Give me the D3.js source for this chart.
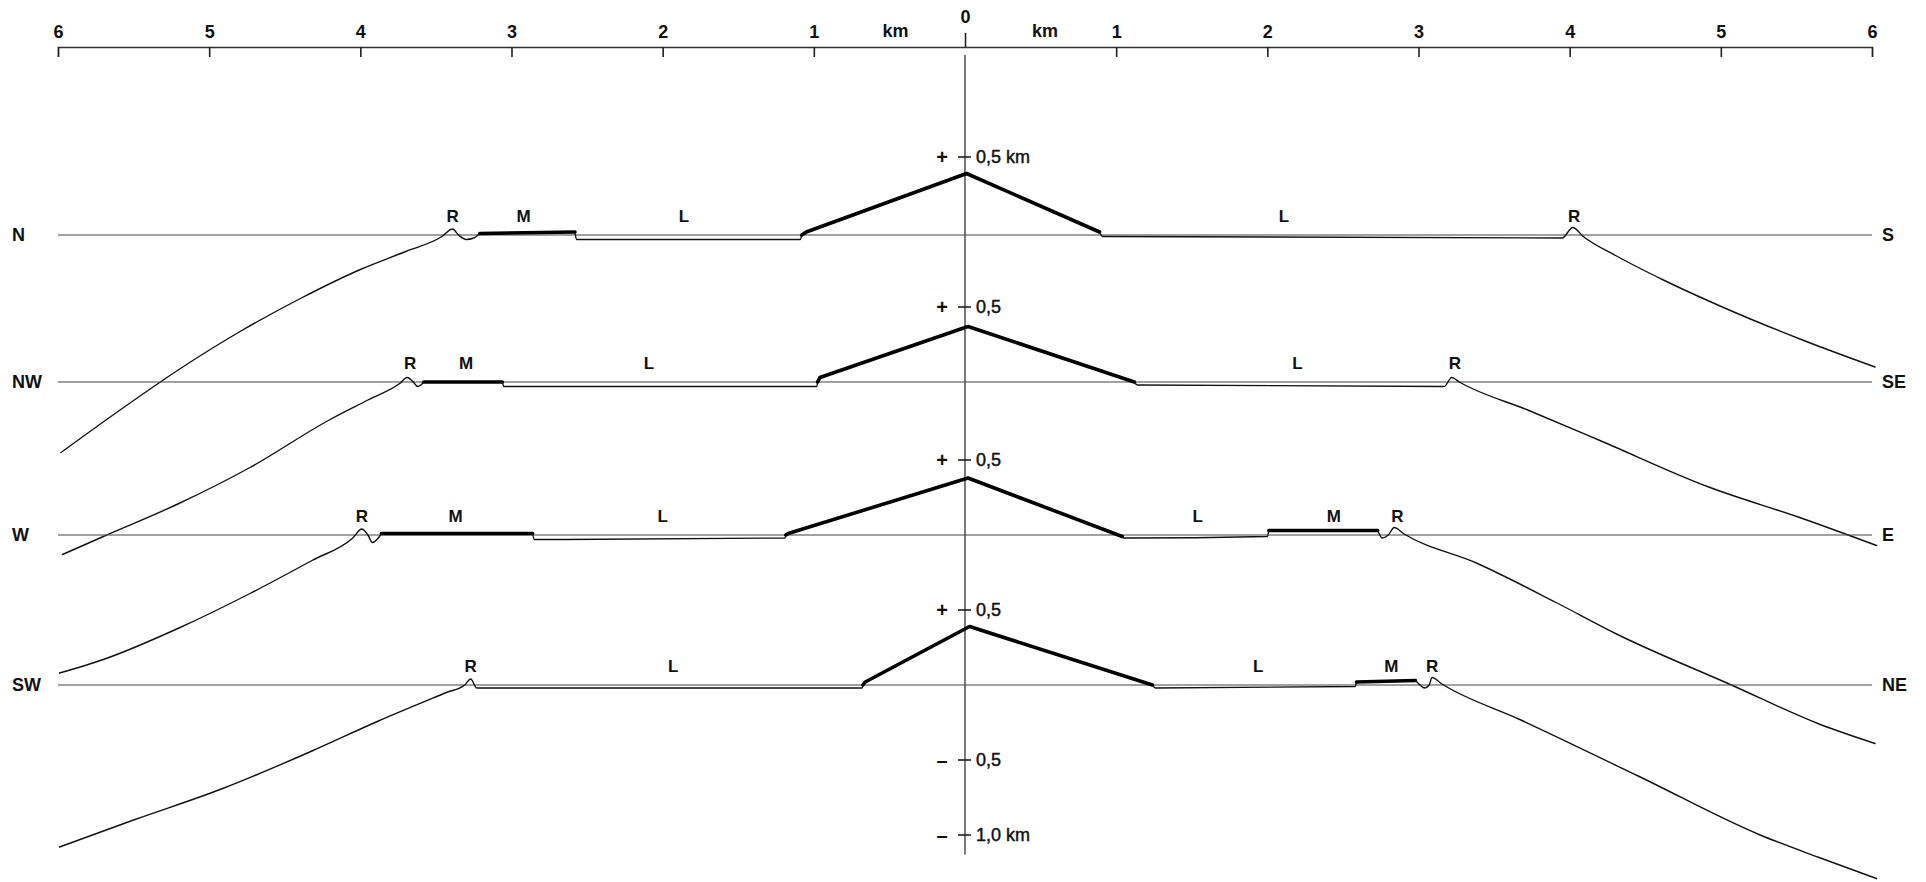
<!DOCTYPE html>
<html>
<head>
<meta charset="utf-8">
<script src="https://cdn.jsdelivr.net/npm/d3@7"></script>
<style>
  html, body { margin: 0; padding: 0; background: #fff; }
  svg { display: block; font-family: "Liberation Sans", Arial, sans-serif; }
</style>
</head>
<body>
<div id="chart-area"></div>
<script>
const svgWidth = 1926,
      svgHeight = 882;

// profile names (left end, right end) and vertical offset of each datum, km
const profileNames = [["N", "S"], ["NW", "SE"], ["W", "E"], ["SW", "NE"]];
const profileOffsets = [0, -0.98, -2, -3];

// profiles: [distance km, height km relative to datum]
const nsProfile = [[-5.98,-1.45],[-5.58,-1.16],[-5.19,-0.89],[-4.79,-0.64],[-4.39,-0.42],[-4.00,-0.23],[-3.70,-0.11],[-3.46,-0.01],[-3.39,0.04],[-3.35,0.0],[-3.30,-0.03],[-3.25,-0.02],[-3.21,0.01],[-2.58,0.02],[-2.57,-0.03],[-1.09,-0.03],[-1.08,0.0],[-1.05,0.02],[0.01,0.41],[0.89,0.02],[0.91,-0.01],[3.95,-0.02],[4.02,0.05],[4.09,-0.01],[4.31,-0.14],[4.62,-0.30],[5.01,-0.48],[5.54,-0.70],[6.02,-0.88]];
const nwseProfile = [[-5.97,-1.15],[-5.70,-1.03],[-5.20,-0.81],[-4.73,-0.57],[-4.20,-0.25],[-3.95,-0.12],[-3.74,-0.01],[-3.69,0.03],[-3.65,0.0],[-3.62,-0.03],[-3.60,-0.02],[-3.58,0.0],[-3.06,0.0],[-3.05,-0.03],[-0.98,-0.03],[-0.975,0.0],[-0.96,0.03],[0.02,0.37],[1.12,0.0],[1.14,-0.02],[3.17,-0.03],[3.22,0.03],[3.27,0.0],[3.73,-0.19],[4.20,-0.39],[4.92,-0.70],[5.54,-0.91],[6.03,-1.09]];
const weProfile = [[-5.99,-0.92],[-5.70,-0.83],[-5.20,-0.62],[-4.73,-0.39],[-4.32,-0.17],[-4.05,-0.02],[-3.99,0.04],[-3.95,0.0],[-3.92,-0.05],[-3.89,-0.03],[-3.86,0.01],[-2.86,0.01],[-2.85,-0.03],[-1.19,-0.02],[-1.185,0.0],[-1.17,0.01],[0.02,0.38],[1.04,-0.01],[1.05,-0.02],[2.00,-0.01],[2.01,0.03],[2.73,0.03],[2.76,-0.02],[2.80,0.0],[2.84,0.05],[2.90,0.01],[3.39,-0.19],[3.91,-0.45],[4.31,-0.66],[5.07,-1.0],[5.65,-1.26],[6.02,-1.39]];
const swneProfile = [[-5.99,-1.08],[-5.50,-0.90],[-4.91,-0.69],[-4.32,-0.44],[-3.88,-0.24],[-3.43,-0.05],[-3.31,0.0],[-3.27,0.04],[-3.23,-0.02],[-0.68,-0.02],[-0.675,0.0],[-0.66,0.02],[0.03,0.39],[1.24,0.0],[1.26,-0.02],[2.58,-0.01],[2.59,0.02],[2.98,0.03],[3.01,0.0],[3.04,-0.02],[3.07,0.0],[3.09,0.05],[3.15,0.01],[3.67,-0.23],[4.46,-0.61],[5.26,-1.0],[5.65,-1.15],[6.03,-1.29]];

// stretches drawn heavy (M units and central peak), km
const nsThick = [[-3.21,-2.58],[-1.08,0.89]];
const nwseThick = [[-3.58,-3.06],[-0.975,1.12]];
const weThick = [[-3.86,-2.86],[-1.185,1.04],[2.01,2.73]];
const swneThick = [[-0.675,1.24],[2.59,2.98]];

// unit labels along each profile: [letter, km]
const nsLabels = [["R",-3.39],["M",-2.92],["L",-1.86],["L",2.11],["R",4.03]];
const nwseLabels = [["R",-3.67],["M",-3.30],["L",-2.09],["L",2.20],["R",3.24]];
const weLabels = [["R",-3.99],["M",-3.37],["L",-2.00],["L",1.54],["M",2.44],["R",2.86]];
const swneLabels = [["R",-3.27],["L",-1.93],["L",1.94],["M",2.82],["R",3.09]];

// distance axis
const xTicks = d3.range(-6, 7);
// height scale ticks on the centre line
const hTickValues = [0.52, -0.48, -1.5, -2.5, -3.5, -4.0];
const hTickLabels = ["0,5 km", "0,5", "0,5", "0,5", "0,5", "1,0 km"];
const hTickSigns = ["+", "+", "+", "+", "\u2013", "\u2013"];

const profiles = [
  {points: nsProfile, thick: nsThick, labels: nsLabels},
  {points: nwseProfile, thick: nwseThick, labels: nwseLabels},
  {points: weProfile, thick: weThick, labels: weLabels},
  {points: swneProfile, thick: swneThick, labels: swneLabels}
].map((p, i) => ({...p, names: profileNames[i], offset: profileOffsets[i]}));

const svg = d3.select("#chart-area")
  .append("svg")
  .attr("width", svgWidth)
  .attr("height", svgHeight);

const x = d3.scaleLinear().domain([-6, 6]).range([58, 1872]);
const y = d3.scaleLinear().domain([0, -4]).range([235, 835]);

// top distance axis
const xAxisGroup = svg.append("g")
  .attr("transform", "translate(0, 47)")
  .call(d3.axisTop(x)
    .tickValues(xTicks)
    .tickFormat(d => Math.abs(d))
    .tickSizeInner(-10)
    .tickSizeOuter(-10)
    .tickPadding(9));

xAxisGroup.select(".domain").attr("stroke", "#333").attr("stroke-width", 1.3);
xAxisGroup.selectAll(".tick line").attr("stroke", "#222").attr("stroke-width", 1.6);
xAxisGroup.selectAll(".tick text")
  .attr("font-size", "18px")
  .attr("font-weight", "bold")
  .attr("font-family", "Liberation Sans, Arial, sans-serif")
  .attr("fill", "#111");
xAxisGroup.selectAll(".tick").filter(d => d === 0)
  .call(g => g.select("line").attr("y2", -14))
  .call(g => g.select("text").attr("y", -24));

xAxisGroup.selectAll(".km")
  .data([-0.46, 0.53])
  .join("text")
  .attr("class", "km")
  .attr("x", d => x(d))
  .attr("y", -10)
  .attr("text-anchor", "middle")
  .attr("font-size", "18px")
  .attr("font-weight", "bold")
  .attr("fill", "#111")
  .text("km");

// centre line
svg.append("line")
  .attr("x1", x(0)).attr("x2", x(0))
  .attr("y1", 55).attr("y2", y(-4.13))
  .attr("stroke", "#222")
  .attr("stroke-width", 1.2);

const hTicks = svg.append("g").selectAll("g")
  .data(hTickValues)
  .join("g")
  .attr("transform", d => `translate(${x(0)}, ${y(d)})`);

hTicks.append("line")
  .attr("x1", -7).attr("x2", 6)
  .attr("stroke", "#111")
  .attr("stroke-width", 1.5);

hTicks.append("text")
  .attr("x", 11)
  .attr("dy", "0.36em")
  .attr("font-size", "18px")
  .attr("fill", "#111")
  .attr("stroke", "#111")
  .attr("stroke-width", 0.45)
  .text((d, i) => hTickLabels[i]);

hTicks.append("text")
  .attr("x", -23)
  .attr("dy", "0.36em")
  .attr("text-anchor", "middle")
  .attr("font-size", "20px")
  .attr("font-weight", "bold")
  .attr("fill", "#111")
  .text((d, i) => hTickSigns[i]);

const smoothLine = d3.line()
  .x(d => x(d[0]))
  .y(d => d[1])
  .curve(d3.curveMonotoneX);

const straightLine = d3.line()
  .x(d => x(d[0]))
  .y(d => d[1]);

// split a profile into thin (smooth) and heavy (straight) runs
function splitRuns(points, thick) {
  const isThick = d => thick.some(s => d[0] >= s[0] - 1e-6 && d[0] <= s[1] + 1e-6);
  const runs = [];
  let cur = null;
  points.forEach(d => {
    const t = isThick(d);
    if (!cur) {
      cur = {thick: t, pts: [d]};
      runs.push(cur);
      return;
    }
    if (cur.thick === t) {
      cur.pts.push(d);
      return;
    }
    if (t) {
      cur.pts.push(d);
      cur = {thick: true, pts: [d]};
    } else {
      const last = cur.pts[cur.pts.length - 1];
      cur = {thick: false, pts: [last, d]};
    }
    runs.push(cur);
  });
  return runs;
}

profiles.forEach(p => {
  const g = svg.append("g").attr("class", "profile");
  const toPx = pts => pts.map(d => [d[0], y(p.offset + d[1])]);

  // datum line
  g.append("path")
    .attr("d", straightLine(toPx([[-6, 0], [6, 0]])))
    .attr("fill", "none")
    .attr("stroke", "#444")
    .attr("stroke-width", 1.1);

  splitRuns(p.points, p.thick).forEach(run => {
    g.append("path")
      .attr("d", run.thick ? straightLine(toPx(run.pts)) : smoothLine(toPx(run.pts)))
      .attr("fill", "none")
      .attr("stroke", run.thick ? "#000" : "#111")
      .attr("stroke-width", run.thick ? 3.6 : 1.4)
      .attr("stroke-linejoin", "round")
      .attr("stroke-linecap", "round");
  });

  g.selectAll(".unit")
    .data(p.labels)
    .join("text")
    .attr("class", "unit")
    .attr("x", d => x(d[1]))
    .attr("y", y(p.offset) - 13)
    .attr("text-anchor", "middle")
    .attr("font-size", "17px")
    .attr("font-weight", "bold")
    .attr("fill", "#111")
    .text(d => d[0]);

  g.append("text")
    .attr("x", 12)
    .attr("y", y(p.offset))
    .attr("dy", "0.36em")
    .attr("font-size", "18px")
    .attr("font-weight", "bold")
    .attr("fill", "#111")
    .text(p.names[0]);

  g.append("text")
    .attr("x", 1882)
    .attr("y", y(p.offset))
    .attr("dy", "0.36em")
    .attr("font-size", "18px")
    .attr("font-weight", "bold")
    .attr("fill", "#111")
    .text(p.names[1]);
});
</script>
</body>
</html>
